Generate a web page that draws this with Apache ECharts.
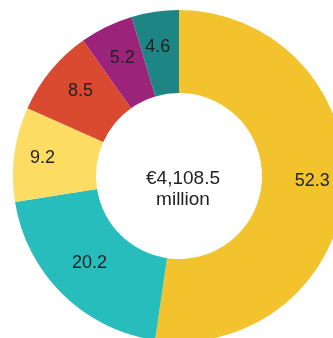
<!DOCTYPE html>
<html>
<head>
<meta charset="utf-8">
<script src="https://cdn.jsdelivr.net/npm/echarts@6/dist/echarts.min.js"></script>
<style>
  html, body { margin: 0; padding: 0; background: #fff; }
  #chart { width: 333px; height: 338px; }
</style>
</head>
<body>
<div id="chart"></div>
<script>
// Share of total (percent), clockwise from twelve o'clock
const shares = [52.3, 20.2, 9.2, 8.5, 5.2, 4.6];
const colors = ['#F2C32D', '#27BDBD', '#FDDC64', '#D94A30', '#9B2379', '#1E8585'];
const totalLabel = ['€4,108.5', 'million'];

// Label nudges [dx, dy] so the value text sits nicely in its slice
const labelOffsets = [
  [6, -4],
  [0, -4],
  [-10, -1],
  [0, -4],
  [-1, -3],
  [-3, -3]
];

const chart = echarts.init(document.getElementById('chart'), null, { renderer: 'canvas' });

chart.setOption({
  animation: false,
  series: [{
    type: 'pie',
    center: [179, 176],
    radius: [83, 166],
    startAngle: 90,
    clockwise: true,
    silent: true,
    label: {
      show: true,
      position: 'inside',
      formatter: p => p.value.toFixed(1),
      color: '#222',
      fontSize: 18,
      fontFamily: 'Liberation Sans, Arial, sans-serif'
    },
    labelLine: { show: false },
    itemStyle: { borderWidth: 0 },
    data: shares.map((v, i) => ({
      value: v,
      itemStyle: { color: colors[i] },
      label: { offset: labelOffsets[i] }
    }))
  }],
  graphic: [{
    type: 'text',
    x: 183,
    y: 189,
    style: {
      text: totalLabel.join('\n'),
      align: 'center',
      verticalAlign: 'middle',
      fill: '#222',
      fontSize: 19,
      lineHeight: 21,
      fontFamily: 'Liberation Sans, Arial, sans-serif'
    }
  }]
});
</script>
</body>
</html>
